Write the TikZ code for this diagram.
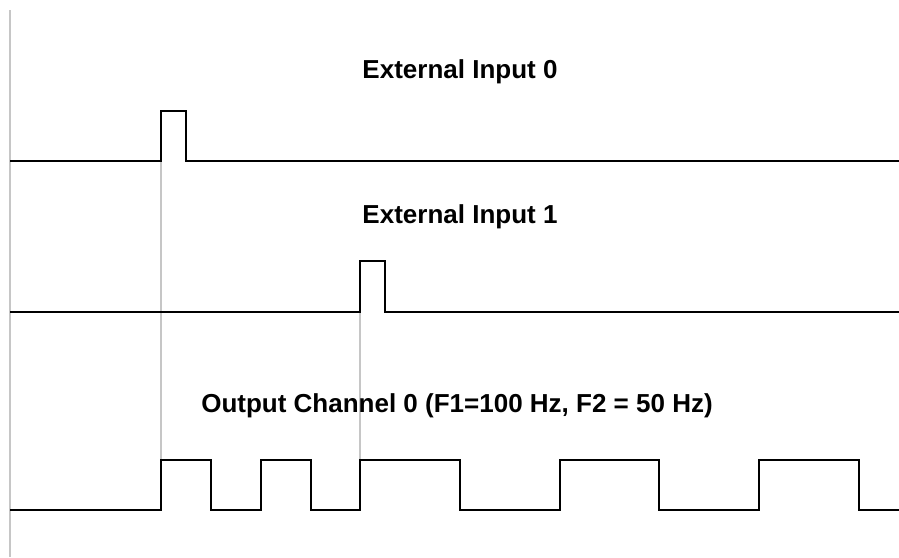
\documentclass[tikz,border=0pt]{standalone}
\usepackage{fontspec}
\setmainfont{Liberation Sans}
\tikzset{
    signal/.style={line width=1pt, black},
    guide/.style={line width=1pt, gray!45},
    caption/.style={anchor=base, font=\bfseries\fontsize{19.5}{23}\selectfont}
}
\begin{document}
\begin{tikzpicture}[x=0.75pt, y=-0.75pt]
    \useasboundingbox (0,0) rectangle (899,557);
    \coordinate (T0) at (161,161);
    \coordinate (T1) at (360,312);
    \coordinate (R0) at (161,460);
    \coordinate (R1) at (360,460);
    % guide lines
    \draw[guide] (10,10) -- (10,557);
    \draw[guide] (T0) -- (R0);
    \draw[guide] (T1) -- (R1);
    % external input 0
    \draw[signal] (10,161) -- (T0) -- (161,111) -- (186,111) -- (186,161) -- (899,161);
    \node[caption] (in0) at (460,78) {External Input 0};
    % external input 1
    \draw[signal] (10,312) -- (T1) -- (360,261) -- (385,261) -- (385,312) -- (899,312);
    \node[caption] (in1) at (460,223) {External Input 1};
    % output channel 0
    \draw[signal] (10,510) -- (161,510) -- (R0) -- (211,460) -- (211,510) -- (261,510)
        -- (261,460) -- (311,460) -- (311,510) -- (360,510) -- (R1) -- (460,460)
        -- (460,510) -- (560,510) -- (560,460) -- (659,460) -- (659,510) -- (759,510)
        -- (759,460) -- (859,460) -- (859,510) -- (899,510);
    \node[caption] (out0) at (457,412) {Output Channel 0 (F1=100 Hz, F2 = 50 Hz)};
\end{tikzpicture}
\end{document}
